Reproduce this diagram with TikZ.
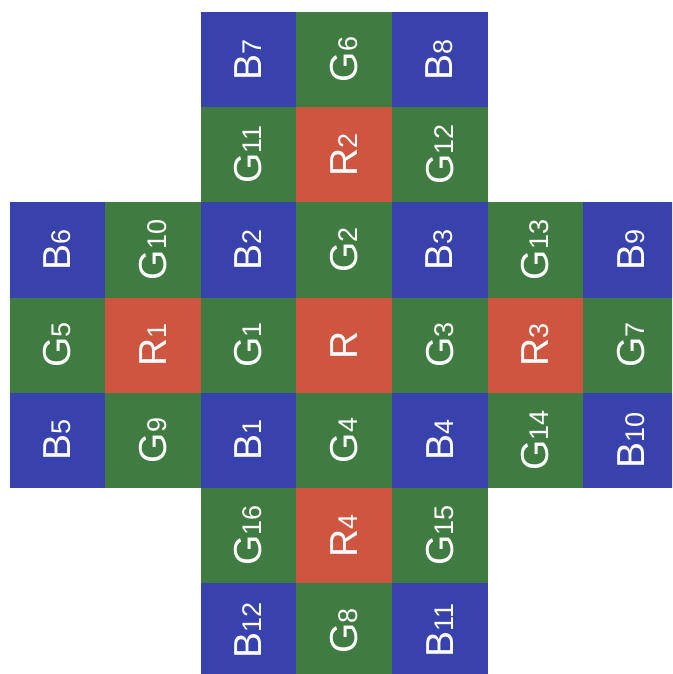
\documentclass[tikz,border=0pt]{standalone}
\usepackage{fontspec}
\setmainfont{Liberation Sans}
\definecolor{cb}{RGB}{56,66,172}
\definecolor{cg}{RGB}{64,124,66}
\definecolor{cr}{RGB}{206,86,64}
\newcommand{\lbl}[2]{{\fontsize{39}{39}\selectfont #1\fontsize{27}{27}\selectfont #2}}
\tikzset{
  cell/.style={minimum width=95.6pt, minimum height=95.2pt, inner sep=0pt, outer sep=0pt, text=white},
  bcell/.style={cell, fill=cb},
  gcell/.style={cell, fill=cg},
  rcell/.style={cell, fill=cr},
  lab/.style={rotate=90, text=white, inner sep=0pt}
}
\begin{document}
\begin{tikzpicture}[x=1pt,y=1pt]
\useasboundingbox (0,0) rectangle (672,-674);
\clip (0,0) rectangle (672,-674);
\foreach \c/\r/\s/\l/\n in {
  2/0/bcell/B/7, 3/0/gcell/G/6, 4/0/bcell/B/8,
  2/1/gcell/G/11, 3/1/rcell/R/2, 4/1/gcell/G/12,
  0/2/bcell/B/6, 1/2/gcell/G/10, 2/2/bcell/B/2, 3/2/gcell/G/2, 4/2/bcell/B/3, 5/2/gcell/G/13, 6/2/bcell/B/9,
  0/3/gcell/G/5, 1/3/rcell/R/1, 2/3/gcell/G/1, 3/3/rcell/R/, 4/3/gcell/G/3, 5/3/rcell/R/3, 6/3/gcell/G/7,
  0/4/bcell/B/5, 1/4/gcell/G/9, 2/4/bcell/B/1, 3/4/gcell/G/4, 4/4/bcell/B/4, 5/4/gcell/G/14, 6/4/bcell/B/10,
  2/5/gcell/G/16, 3/5/rcell/R/4, 4/5/gcell/G/15,
  2/6/bcell/B/12, 3/6/gcell/G/8, 4/6/bcell/B/11}
{
  \node[\s] (c\c-\r) at ({9.5+95.6*(\c+0.5)}, {-(12+95.2*(\r+0.5))}) {};
  \node[lab] (t\c-\r) at (c\c-\r.center) {\lbl{\l}{\n}};
}
\end{tikzpicture}
\end{document}
